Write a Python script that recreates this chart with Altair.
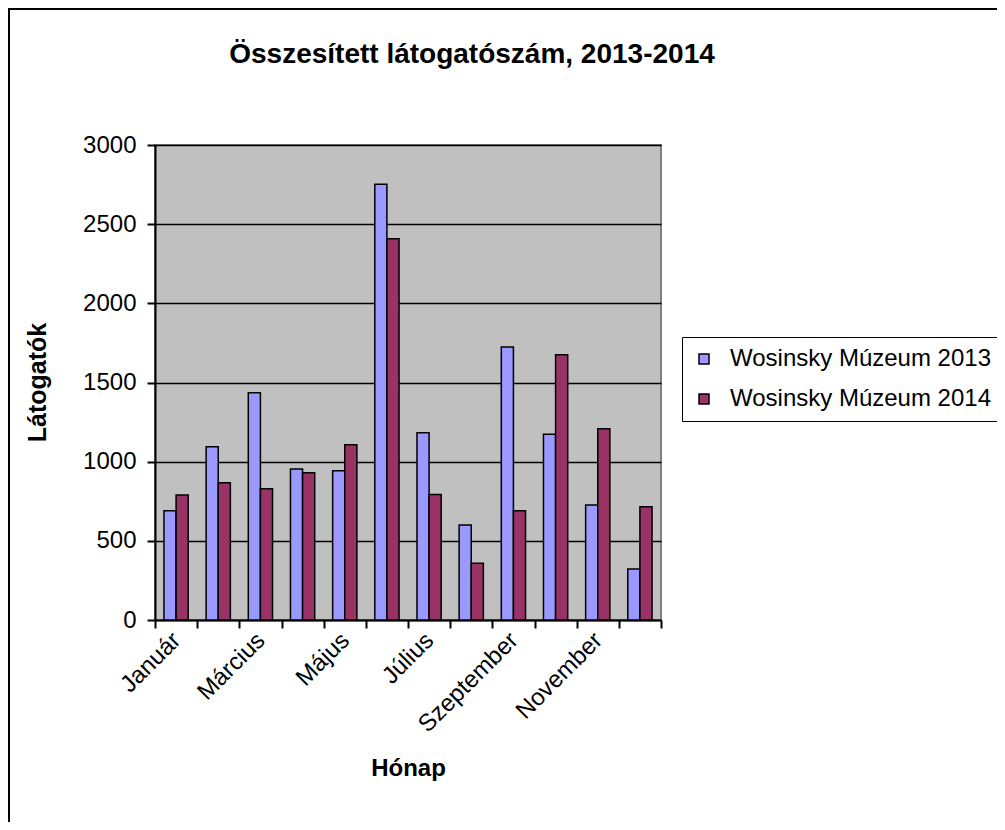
import altair as alt
import pandas as pd

months = ["Január", "Február", "Március", "Április", "Május", "Június",
          "Július", "Augusztus", "Szeptember", "Október", "November", "December"]
shown_labels = ["Január", "Március", "Május", "Július", "Szeptember", "November"]
series_names = ["Wosinsky Múzeum 2013", "Wosinsky Múzeum 2014"]
v2013 = [690, 1095, 1436, 954, 943, 2752, 1183, 600, 1724, 1173, 726, 322]
v2014 = [790, 867, 829, 930, 1107, 2408, 792, 358, 690, 1676, 1208, 716]
y_ticks = [0, 500, 1000, 1500, 2000, 2500, 3000]
colors = ["#9999FF", "#993366"]

rows = []
for m, a, b in zip(months, v2013, v2014):
    rows.append({"Hónap": m, "Sorozat": series_names[0], "Látogatók": a})
    rows.append({"Hónap": m, "Sorozat": series_names[1], "Látogatók": b})
df = pd.DataFrame(rows)

FONT = "Liberation Sans"
label_list = ",".join("'" + s + "'" for s in shown_labels)

bars = alt.Chart(df).mark_bar(stroke="black", strokeWidth=1.5).encode(
    x=alt.X("Hónap:N", sort=months,
            scale=alt.Scale(paddingInner=0, paddingOuter=0),
            axis=alt.Axis(title="Hónap", labelAngle=315, labelAlign="right",
                          labelBaseline="top", labelPadding=0, labelOffset=-8,
                          labelFontSize=24, labelFont=FONT, labelColor="black",
                          labelOverlap=False, labelLimit=0,
                          labelExpr=f"indexof([{label_list}], datum.value) >= 0 ? datum.value : ''",
                          tickBand="extent", tickSize=8, tickColor="black", tickWidth=2,
                          domainColor="black", domainWidth=2,
                          titleFont=FONT, titleFontSize=24, titleFontWeight="bold",
                          titleColor="black", titleX=253, titleY=148,
                          titleBaseline="middle", titleAlign="center")),
    xOffset=alt.XOffset("Sorozat:N", sort=series_names,
                        scale=alt.Scale(paddingInner=0, paddingOuter=0.74)),
    y=alt.Y("Látogatók:Q", scale=alt.Scale(domain=[0, 3000], nice=False),
            axis=alt.Axis(title="Látogatók", values=y_ticks, grid=True, format="d",
                          gridColor="black", gridWidth=1.5,
                          labelFontSize=24, labelFont=FONT, labelColor="black",
                          labelPadding=11,
                          tickSize=8, tickColor="black", tickWidth=2,
                          domainColor="black", domainWidth=2,
                          titleFont=FONT, titleFontSize=25, titleFontWeight="bold",
                          titleColor="black", titleAngle=270, titleX=-118, titleY=237,
                          titleBaseline="middle", titleAlign="center")),
    color=alt.Color("Sorozat:N", sort=series_names,
                    scale=alt.Scale(domain=series_names, range=colors),
                    legend=alt.Legend(title=None, orient="none", legendX=527, legendY=192,
                                      padding=10, strokeColor="black", fillColor="white",
                                      symbolType="square", symbolSize=100,
                                      symbolStrokeColor="black", symbolStrokeWidth=1.5,
                                      labelFont=FONT, labelFontSize=24, labelColor="black",
                                      labelLimit=0,
                                      labelOffset=14, rowPadding=16, offset=0)),
)

frame_df = pd.DataFrame({"k": [0]})
frame = alt.Chart(frame_df).mark_rect(fill=None, stroke="black", strokeWidth=2).encode(
    x=alt.value(-146), y=alt.value(-136), x2=alt.value(2000), y2=alt.value(2000)
)

chart = alt.layer(bars, frame).properties(
    width=506, height=475,
    padding={"left": 147, "top": 137, "right": 336, "bottom": 202},
    autosize=alt.AutoSizeParams(type="none"),
    title=alt.TitleParams("Összesített látogatószám, 2013-2014", font=FONT, fontSize=28,
                          fontWeight="bold", color="black", anchor="middle", frame="group",
                          baseline="alphabetic", offset=0, dy=83, dx=64),
).configure_view(fill="#C0C0C0", stroke="#808080", strokeWidth=2)

chart.save("out.html", embed_options={"renderer": "svg", "actions": False})
